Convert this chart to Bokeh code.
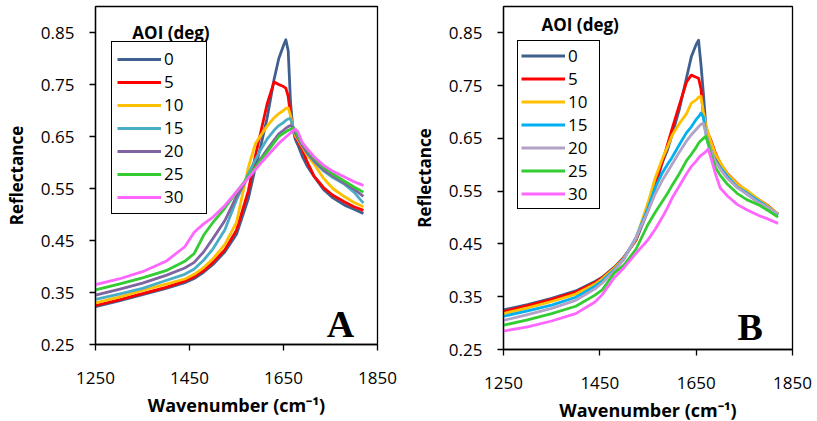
from bokeh.plotting import figure
from bokeh.layouts import row
from bokeh.models import (Legend, LegendItem, Label, FixedTicker,
                          NumeralTickFormatter, Range1d)
from bokeh.embed import file_html
from bokeh.resources import INLINE

# ---------------- data ----------------
aoi_labels = ["0", "5", "10", "15", "20", "25", "30"]
x_ticks = [1250, 1450, 1650, 1850]
y_ticks = [0.25, 0.35, 0.45, 0.55, 0.65, 0.75, 0.85]

wn_a = [1250, 1300, 1350, 1400, 1440, 1460, 1480, 1500, 1525, 1550, 1575, 1590, 1600, 1615, 1630, 1640,
        1650, 1655, 1660, 1665, 1670, 1675, 1680, 1690, 1700, 1715, 1735, 1755, 1780, 1800, 1820]
a_0 = [0.323, 0.334, 0.346, 0.358, 0.369, 0.377, 0.389, 0.404, 0.428, 0.462, 0.530, 0.590, 0.625, 0.685, 0.760, 0.800,
       0.825, 0.836, 0.815, 0.715, 0.665, 0.645, 0.635, 0.612, 0.594, 0.573, 0.548, 0.532, 0.518, 0.510, 0.502]
a_5 = [0.325, 0.336, 0.348, 0.360, 0.372, 0.380, 0.392, 0.408, 0.432, 0.470, 0.545, 0.612, 0.652, 0.712, 0.755, 0.750,
       0.746, 0.743, 0.727, 0.690, 0.665, 0.650, 0.642, 0.625, 0.602, 0.574, 0.552, 0.537, 0.524, 0.515, 0.508]
a_10 = [0.330, 0.341, 0.354, 0.366, 0.376, 0.385, 0.398, 0.415, 0.442, 0.485, 0.590, 0.636, 0.650, 0.670, 0.686, 0.694,
        0.700, 0.704, 0.705, 0.690, 0.668, 0.652, 0.645, 0.630, 0.615, 0.597, 0.570, 0.550, 0.534, 0.523, 0.515]
a_15 = [0.337, 0.347, 0.358, 0.373, 0.385, 0.395, 0.412, 0.434, 0.470, 0.528, 0.578, 0.605, 0.622, 0.645, 0.662, 0.671,
        0.677, 0.681, 0.684, 0.684, 0.670, 0.657, 0.648, 0.633, 0.618, 0.602, 0.584, 0.571, 0.558, 0.543, 0.522]
a_20 = [0.345, 0.356, 0.368, 0.383, 0.397, 0.408, 0.428, 0.454, 0.488, 0.535, 0.572, 0.590, 0.605, 0.625, 0.643, 0.655,
        0.662, 0.666, 0.669, 0.671, 0.668, 0.658, 0.648, 0.633, 0.620, 0.604, 0.586, 0.574, 0.560, 0.549, 0.535]
a_25 = [0.355, 0.366, 0.378, 0.392, 0.410, 0.425, 0.460, 0.485, 0.512, 0.543, 0.573, 0.590, 0.603, 0.620, 0.638, 0.650,
        0.656, 0.659, 0.662, 0.664, 0.666, 0.664, 0.652, 0.637, 0.625, 0.608, 0.591, 0.578, 0.564, 0.553, 0.543]
a_30 = [0.365, 0.376, 0.390, 0.410, 0.438, 0.466, 0.482, 0.495, 0.517, 0.544, 0.570, 0.586, 0.597, 0.612, 0.627, 0.637,
        0.645, 0.649, 0.653, 0.657, 0.661, 0.664, 0.660, 0.638, 0.627, 0.611, 0.595, 0.583, 0.572, 0.563, 0.556]

wn_b = [1250, 1300, 1350, 1400, 1440, 1455, 1480, 1500, 1525, 1550, 1565, 1580, 1590, 1600, 1615, 1630,
        1640, 1650, 1655, 1660, 1665, 1670, 1675, 1680, 1690, 1700, 1715, 1735, 1755, 1780, 1800, 1820]
b_0 = [0.325, 0.335, 0.347, 0.361, 0.379, 0.387, 0.406, 0.425, 0.457, 0.513, 0.558, 0.605, 0.627, 0.657, 0.705, 0.765,
       0.805, 0.828, 0.836, 0.790, 0.735, 0.675, 0.655, 0.638, 0.613, 0.600, 0.578, 0.560, 0.545, 0.529, 0.520, 0.506]
b_5 = [0.322, 0.333, 0.345, 0.359, 0.377, 0.386, 0.405, 0.424, 0.458, 0.520, 0.566, 0.606, 0.637, 0.668, 0.713, 0.757,
       0.770, 0.766, 0.764, 0.744, 0.694, 0.670, 0.658, 0.648, 0.622, 0.603, 0.583, 0.565, 0.549, 0.534, 0.522, 0.506]
b_10 = [0.318, 0.329, 0.341, 0.355, 0.374, 0.384, 0.404, 0.423, 0.460, 0.528, 0.575, 0.612, 0.633, 0.656, 0.678, 0.697,
        0.717, 0.723, 0.728, 0.730, 0.700, 0.675, 0.660, 0.645, 0.620, 0.605, 0.582, 0.564, 0.552, 0.534, 0.521, 0.507]
b_15 = [0.313, 0.323, 0.334, 0.349, 0.370, 0.380, 0.401, 0.422, 0.462, 0.518, 0.557, 0.585, 0.600, 0.614, 0.638, 0.661,
        0.672, 0.686, 0.691, 0.698, 0.690, 0.660, 0.640, 0.628, 0.608, 0.595, 0.578, 0.558, 0.547, 0.531, 0.519, 0.505]
b_20 = [0.305, 0.316, 0.328, 0.343, 0.365, 0.376, 0.399, 0.421, 0.462, 0.512, 0.545, 0.571, 0.586, 0.601, 0.624, 0.645,
        0.657, 0.667, 0.672, 0.677, 0.678, 0.660, 0.643, 0.630, 0.606, 0.592, 0.574, 0.557, 0.545, 0.528, 0.518, 0.507]
b_25 = [0.296, 0.306, 0.318, 0.332, 0.353, 0.363, 0.395, 0.410, 0.440, 0.487, 0.510, 0.531, 0.545, 0.561, 0.583, 0.608,
        0.620, 0.633, 0.641, 0.646, 0.650, 0.654, 0.640, 0.622, 0.595, 0.580, 0.563, 0.546, 0.534, 0.524, 0.513, 0.501]
b_30 = [0.285, 0.293, 0.304, 0.318, 0.340, 0.354, 0.386, 0.405, 0.432, 0.458, 0.478, 0.501, 0.518, 0.537, 0.560, 0.583,
        0.597, 0.607, 0.613, 0.618, 0.621, 0.625, 0.630, 0.615, 0.583, 0.556, 0.541, 0.525, 0.515, 0.504, 0.497, 0.489]

colors_a = ["#3F5F8F", "#FF0000", "#FFC000", "#4BACC6", "#8064A2", "#33CC33", "#FF66FF"]
colors_b = ["#3F5F8F", "#FF0000", "#FFC000", "#00B0F0", "#B3A2C7", "#33CC33", "#FF66FF"]

FONT = "Open Sans"


def make_panel(wn, series, colors, letter, frame_w, frame_h, border_top, border_bottom, border_right,
               title_xy, letter_xy, legend_loc, item_h, pad, label_w):
    p = figure(frame_width=frame_w, frame_height=frame_h, output_backend="svg", toolbar_location=None,
               x_range=Range1d(1250, 1850), y_range=Range1d(0.25, 0.9),
               min_border_left=95, min_border_right=border_right,
               min_border_top=border_top, min_border_bottom=border_bottom)
    p.background_fill_color = "white"
    p.border_fill_color = "white"
    p.outline_line_color = "black"
    p.outline_line_width = 1.3
    p.xgrid.visible = False
    p.ygrid.visible = False

    for ax in (p.xaxis[0], p.yaxis[0]):
        ax.axis_line_color = "black"
        ax.axis_line_width = 1.3
        ax.major_tick_line_color = "black"
        ax.major_tick_line_width = 1.3
        ax.major_tick_out = 6
        ax.major_tick_in = 0
        ax.minor_tick_line_color = None
        ax.major_label_text_font = FONT
        ax.major_label_text_font_size = "17px"
        ax.major_label_text_color = "black"
        ax.axis_label_text_font = FONT
        ax.axis_label_text_font_style = "bold"
        ax.axis_label_text_color = "black"

    p.xaxis.ticker = FixedTicker(ticks=x_ticks)
    p.yaxis.ticker = FixedTicker(ticks=y_ticks)
    p.yaxis.formatter = NumeralTickFormatter(format="0.00")
    p.xaxis.major_label_standoff = 21
    p.yaxis.major_label_standoff = 15
    p.xaxis.axis_label = "Wavenumber (cm\u207b\u00b9)"
    p.yaxis.axis_label = "Reflectance"
    p.xaxis.axis_label_text_font_size = "18px"
    p.yaxis.axis_label_text_font_size = "17px"
    p.xaxis.axis_label_standoff = 6
    p.yaxis.axis_label_standoff = 10

    items = []
    for lab, ys, c in zip(aoi_labels, series, colors):
        r = p.line(wn, ys, line_color=c, line_width=2.8, line_join="round")
        items.append(LegendItem(label=lab, renderers=[r]))

    legend = Legend(items=items, location=legend_loc, border_line_color="black", border_line_width=1.3,
                    border_line_alpha=1.0, background_fill_color="white", background_fill_alpha=1.0,
                    padding=pad, margin=0, spacing=0, glyph_width=44, glyph_height=item_h,
                    label_height=item_h, label_width=label_w, label_standoff=3,
                    label_text_font=FONT, label_text_font_size="17px", label_text_color="black")
    p.add_layout(legend)

    p.add_layout(Label(x=title_xy[0], y=title_xy[1], text="AOI (deg)", text_font=FONT,
                       text_font_style="bold", text_font_size="17px", text_align="center",
                       text_baseline="middle", text_color="black"))
    p.add_layout(Label(x=letter_xy[0], y=letter_xy[1], text=letter, text_font="Liberation Serif",
                       text_font_style="bold", text_font_size="38px", text_align="center",
                       text_baseline="alphabetic", text_color="black"))
    return p


pA = make_panel(wn_a, [a_0, a_5, a_10, a_15, a_20, a_25, a_30], colors_a, "A",
                282, 338, 6, 77, 31,
                (1410.6, 0.850), (1771, 0.290), (16, 130), 22, 5, 37)
pB = make_panel(wn_b, [b_0, b_5, b_10, b_15, b_20, b_25, b_30], colors_b, "B",
                289, 343, 5, 73, 25,
                (1409.2, 0.866), (1762, 0.2935), (14, 140), 23, 3, 28)

layout = row(pA, pB, spacing=0)
open("out.html", "w").write(file_html(layout, INLINE))
